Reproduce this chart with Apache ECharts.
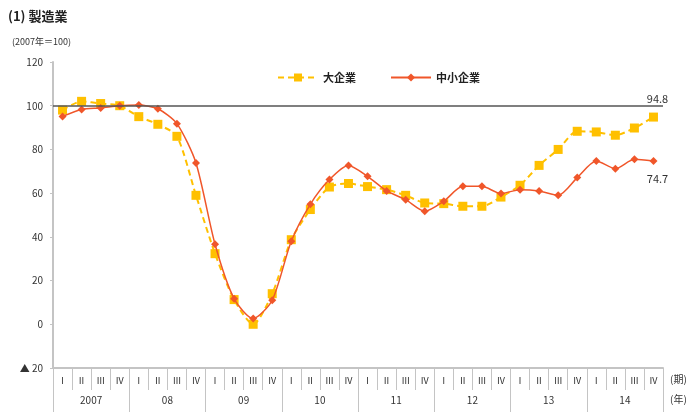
<!DOCTYPE html>
<html>
<head>
<meta charset="utf-8">
<script src="https://cdn.jsdelivr.net/npm/echarts@6/dist/echarts.min.js"></script>
<style>
  html, body { margin: 0; padding: 0; background: #fff; }
  #main { width: 695px; height: 412px; }
</style>
</head>
<body>
<div id="main"></div>
<script>
// 四半期・年のラベル
var quarters = ['Ⅰ', 'Ⅱ', 'Ⅲ', 'Ⅳ']
var years = ['2007', '08', '09', '10', '11', '12', '13', '14']
var categories = []
years.forEach(function (y) {
  quarters.forEach(function (q) { categories.push(y + '-' + q) })
})

// 大企業 (2007年=100)
var largeFirms = [98, 102, 101, 100, 95, 91.5, 86, 59, 32.3, 11.3, 0, 14,
  38.7, 52.5, 62.8, 64.4, 63, 61.6, 59, 55.5, 55.2, 54, 54, 58.2,
  63.6, 72.7, 80, 88.3, 88, 86.5, 89.8, 94.8]
// 中小企業
var smallFirms = [95.1, 98.3, 99, 100, 100.3, 98.6, 91.8, 73.8, 36.6, 11.7, 2.6, 11,
  38, 54.9, 66.2, 72.7, 67.7, 61, 57, 51.7, 56.3, 63.1, 63.1, 59.8,
  61.6, 61, 59, 67.1, 74.7, 71.2, 75.5, 74.7]

var yTicks = [-20, 0, 20, 40, 60, 80, 100, 120]

var myChart = echarts.init(document.getElementById('main'))
var font = '"Noto Sans CJK JP", "Noto Sans", sans-serif'

var option = {
  animation: false,
  textStyle: { fontFamily: font },
  graphic: [
    { type: 'text', left: 8, top: 10, style: { text: '(1) 製造業', font: 'bold 13px ' + font, fill: '#222' } },
    { type: 'text', left: 12, top: 37, style: { text: '(2007年＝100)', font: '9px ' + font, fill: '#333' } },
    { type: 'text', left: 670, top: 374, style: { text: '(期)', font: '10px ' + font, fill: '#333' } },
    { type: 'text', left: 670, top: 394, style: { text: '(年)', font: '10px ' + font, fill: '#333' } }
  ],
  legend: {
    top: 67,
    left: 272,
    itemWidth: 40,
    itemHeight: 10,
    itemGap: 34,
    textStyle: { fontSize: 11, fontWeight: 'bold', color: '#222', fontFamily: font },
    data: ['大企業', '中小企業']
  },
  grid: { left: 53, right: 32, top: 62, bottom: 44 },
  xAxis: [
    {
      type: 'category',
      data: categories,
      boundaryGap: true,
      axisLine: { onZero: false, lineStyle: { color: '#c4c4c4', width: 2 } },
      axisTick: { show: true, interval: 0, length: 22, lineStyle: { color: '#c4c4c4' } },
      axisLabel: {
        interval: 0,
        margin: 8,
        fontSize: 9,
        color: '#333',
        formatter: function (v) { return v.split('-')[1] }
      }
    },
    {
      type: 'category',
      data: years,
      position: 'bottom',
      boundaryGap: true,
      axisLine: { show: false, onZero: false },
      axisTick: { show: true, interval: 0, length: 44, lineStyle: { color: '#c4c4c4' } },
      axisLabel: { interval: 0, margin: 27, fontSize: 10, color: '#333' }
    }
  ],
  yAxis: {
    type: 'value',
    min: -20,
    max: 120,
    interval: 20,
    axisLine: { show: true, lineStyle: { color: '#c4c4c4', width: 2 } },
    axisTick: { show: true, length: 3, lineStyle: { color: '#c4c4c4' } },
    splitLine: { show: false },
    axisLabel: {
      margin: 10,
      fontSize: 10,
      color: '#333',
      formatter: function (v) {
        if (yTicks.indexOf(v) < 0) return ''
        return v < 0 ? '▲ ' + Math.abs(v) : String(v)
      }
    }
  },
  series: [
    {
      name: '大企業',
      type: 'line',
      smooth: 0.25,
      symbol: 'rect',
      symbolSize: 9,
      lineStyle: { color: '#FFC000', width: 2, type: [6, 4] },
      itemStyle: { color: '#FFC000' },
      data: largeFirms.map(function (v, i) {
        if (i === largeFirms.length - 1) {
          return {
            value: v,
            label: { show: true, position: 'top', offset: [4, -3], fontSize: 11, color: '#333', formatter: '{c}' }
          }
        }
        return v
      }),
      markLine: {
        silent: true,
        symbol: 'none',
        label: { show: false },
        lineStyle: { color: '#555', width: 1.5, type: 'solid' },
        data: [{ yAxis: 100 }]
      },
      z: 2
    },
    {
      name: '中小企業',
      type: 'line',
      smooth: 0.25,
      symbol: 'diamond',
      symbolSize: 8,
      lineStyle: { color: '#F0562A', width: 1.5 },
      itemStyle: { color: '#F0562A' },
      data: smallFirms.map(function (v, i) {
        if (i === smallFirms.length - 1) {
          return {
            value: v,
            label: { show: true, position: 'bottom', offset: [4, 3], fontSize: 11, color: '#333', formatter: '{c}' }
          }
        }
        return v
      }),
      z: 3
    }
  ]
}

myChart.setOption(option)
</script>
</body>
</html>
